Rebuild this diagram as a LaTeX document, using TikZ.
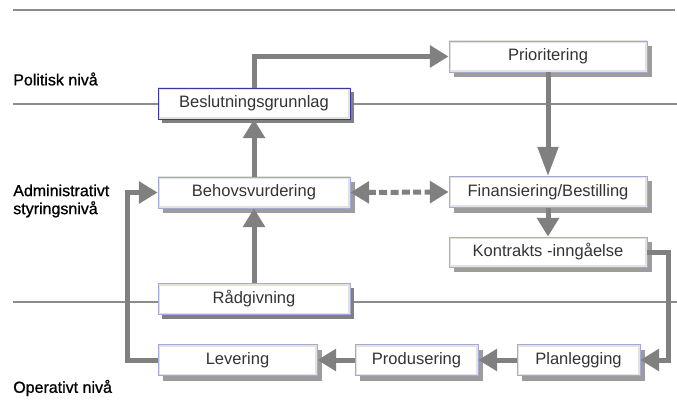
\documentclass[tikz,border=0pt]{standalone}
\usepackage{fontspec}
\setmainfont{Liberation Sans}
\usepackage{tikz}
\usetikzlibrary{calc, positioning, shadows}
\usetikzlibrary{arrows.meta}
\tikzset{>=stealth}
\usepackage{xcolor}
\definecolor{boxline}{HTML}{A8A8D4}
\definecolor{navyline}{HTML}{3A3A9C}
\definecolor{arrgray}{HTML}{808080}
\definecolor{sepgray}{HTML}{8C8C8C}
\definecolor{gridshadow}{HTML}{9C9C9C}
\definecolor{solidshadow}{HTML}{808080}
\definecolor{boxtext}{HTML}{333333}
\definecolor{innerband}{HTML}{E2E2E2}
\tikzset{
	box/.style={draw=boxline, line width=0.6pt, fill=white, minimum height=23.25pt, inner sep=0pt,
		text=boxtext, font=\fontsize{12.4}{14}\selectfont,
		path picture={\draw[innerband, line width=3pt] (path picture bounding box.south west) rectangle (path picture bounding box.north east);}},
	gridbox/.style={box, drop shadow={shadow xshift=3.75pt, shadow yshift=-3.75pt, fill=gridshadow, opacity=1}},
	solidbox/.style={box, drop shadow={shadow xshift=3pt, shadow yshift=-3pt, fill=solidshadow, opacity=1}},
	level/.style={anchor=west, align=left, inner sep=0pt, font=\fontsize{12}{13.5}\selectfont\addfontfeature{FakeBold=0.9}},
	sep/.style={sepgray, line width=0.9pt},
	flow/.style={arrgray, line width=3.75pt, -{Triangle[length=14pt,width=16pt]}}
}

\begin{document}
\begin{tikzpicture}[x=0.75pt, y=-0.75pt]
	\useasboundingbox (0,0) rectangle (677,413);
	\draw [sep] (13,10) -- (675,10);
	\draw [sep] (13,104) -- (677,104);
	\draw [sep] (13,302) -- (677,302);
	\node[level] (politisk) at (13,79) {Politisk nivå};
	\node[level] (admin) at (13,201) {Administrativt\\styringsnivå};
	\node[level] (operativ) at (13,388) {Operativt nivå};
	\node[solidbox, draw=navyline, minimum width=144pt] (besl) at (254,103.5) {Beslutningsgrunnlag};
	\node[gridbox, minimum width=148.5pt] (prio) at (548,56.5) {Prioritering};
	\node[gridbox, minimum width=144pt] (behov) at (254,192.5) {Behovsvurdering};
	\node[gridbox, minimum width=148.5pt] (fin) at (548,192) {Finansiering/Bestilling};
	\node[gridbox, minimum width=148.5pt, minimum height=22.5pt] (kontr) at (548,252) {Kontrakts -inngåelse};
	\node[solidbox, minimum width=144pt] (rad) at (254,299) {Rådgivning};
	\node[gridbox, minimum width=119.25pt] (lev) at (237.5,360) {Levering};
	\node[gridbox, minimum width=92.25pt] (prod) at (416.5,360) {Produsering};
	\node[gridbox, minimum width=92.25pt] (plan) at (578.5,360) {Planlegging};
	\draw [flow] (besl.north) |- (prio.west);
	\draw [flow, -{Triangle[length=22pt,width=15pt]}] (prio.south) -- (fin.north);
	\draw [flow] (fin.south) -- (kontr.north);
	\draw [flow] (kontr.east) -- ++(21,0) |- (plan.east);
	\draw [flow] (plan.west) -- (prod.east);
	\draw [flow] (prod.west) -- (lev.east);
	\draw [flow] (lev.west) -- ++(-30,0) |- (behov.west);
	\draw [flow] (rad.north) -- (behov.south);
	\draw [flow] (behov.north) -- (besl.south);
	\draw [flow, {Triangle[length=14pt,width=16pt]}-{Triangle[length=14pt,width=16pt]}, dash pattern=on 6pt off 2.5pt] (behov.east) -- (fin.west);
\end{tikzpicture}
\end{document}
